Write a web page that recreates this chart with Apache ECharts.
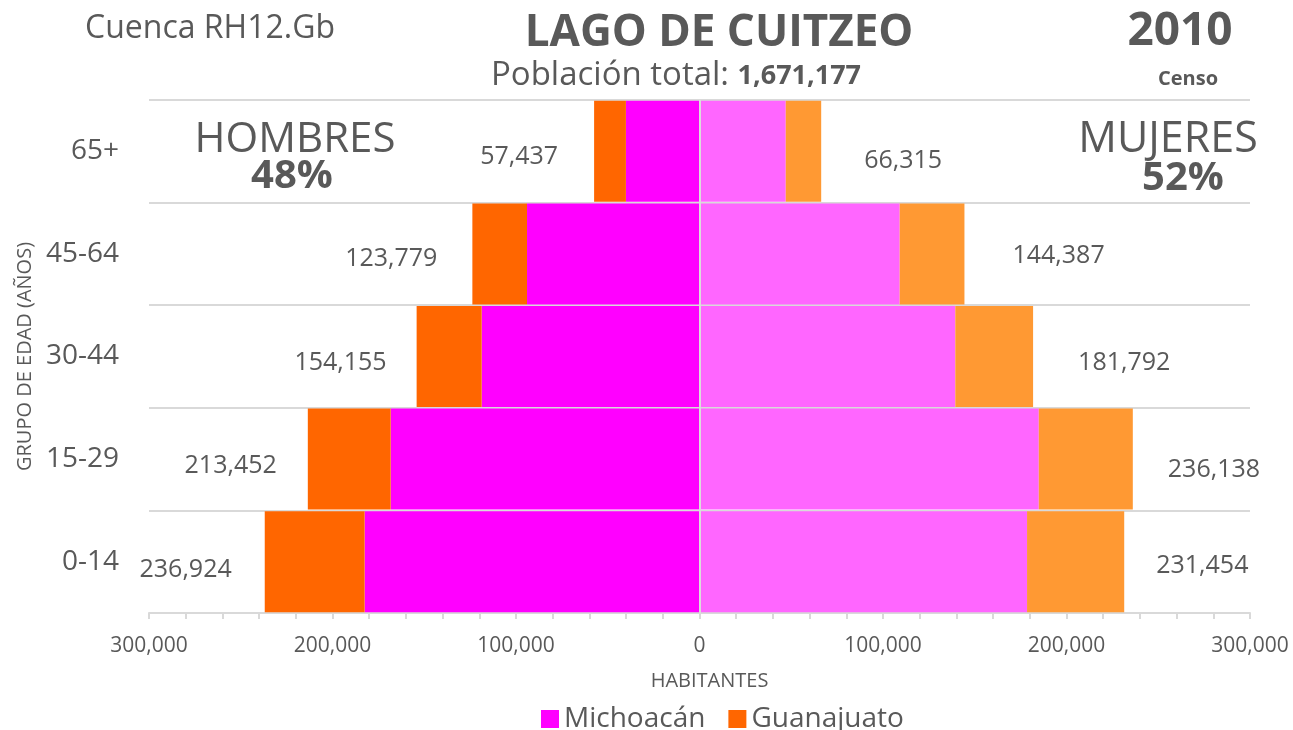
<!DOCTYPE html>
<html>
<head>
<meta charset="utf-8">
<script src="https://cdn.jsdelivr.net/npm/echarts@6/dist/echarts.min.js"></script>
<style>
  html, body { margin: 0; padding: 0; background: #fff; }
  #chart { width: 1293px; height: 730px; }
</style>
</head>
<body>
<div id="chart"></div>
<script>
// age groups, bottom to top
var categories = ['0-14', '15-29', '30-44', '45-64', '65+'];

// men (left side) by state
var menMichoacan = [182500, 168300, 118700, 94000, 40100];
var menGuanajuato = [54424, 45152, 35455, 29779, 17337];
// women (right side) by state
var womenMichoacan = [178500, 184900, 139400, 109100, 47000];
var womenGuanajuato = [52954, 51238, 42392, 35287, 19315];

// totals printed next to each bar
var menTotals = [236924, 213452, 154155, 123779, 57437];
var womenTotals = [231454, 236138, 181792, 144387, 66315];

var xTicks = [-300000, -200000, -100000, 0, 100000, 200000, 300000];

// hand placed labels in the original, so nudge them a bit per row
var menLabelGap = [33, 31, 30, 35, 36];
var menLabelDy = [8, 7, 6, 5, 6];
var womenLabelGap = [32, 35, 45, 48, 43];
var womenLabelDy = [4, 11, 6, 2, 10];

var grey = '#595959';
var font = '"Open Sans", sans-serif';

function fmt(n) {
    return Math.abs(n).toLocaleString('en-US');
}

function labelled(values, totals, gaps, dys, pos, sign) {
    return values.map(function (v, i) {
        return {
            value: sign * v,
            label: {
                show: true,
                position: pos,
                distance: gaps[i],
                offset: [0, dys[i]],
                formatter: fmt(totals[i]),
                color: grey,
                fontSize: 25,
                fontFamily: font
            }
        };
    });
}

var chart = echarts.init(document.getElementById('chart'));

var option = {
    animation: false,
    textStyle: { fontFamily: font, color: grey },
    grid: { left: 149, right: 43, top: 100, bottom: 117 },
    legend: {
        data: ['Michoacán', 'Guanajuato'],
        left: 536,
        top: 700,
        icon: 'rect',
        itemWidth: 18,
        itemHeight: 18,
        itemGap: 23,
        textStyle: { fontSize: 28, color: grey, fontFamily: font }
    },
    xAxis: {
        type: 'value',
        min: -300000,
        max: 300000,
        interval: 20000,
        name: 'HABITANTES',
        nameLocation: 'middle',
        nameGap: 58,
        nameTextStyle: { fontSize: 20, color: grey, padding: [0, 0, 0, 20] },
        axisLine: { show: true, lineStyle: { color: '#d9d9d9', width: 2 } },
        axisTick: { show: true, length: 6, lineStyle: { color: '#d9d9d9', width: 2 } },
        splitLine: { show: false },
        axisLabel: {
            margin: 23,
            fontSize: 21,
            color: grey,
            formatter: function (v) {
                return xTicks.indexOf(v) >= 0 ? fmt(v) : '';
            }
        }
    },
    yAxis: {
        type: 'category',
        data: categories,
        name: 'GRUPO DE EDAD (AÑOS)',
        nameLocation: 'middle',
        nameGap: 114,
        nameTextStyle: { fontSize: 20, color: grey },
        axisLine: { show: false },
        axisTick: { show: false },
        splitLine: { show: true, lineStyle: { color: '#d9d9d9', width: 2 } },
        axisLabel: { margin: 30, fontSize: 28, color: grey }
    },
    series: [
        {
            name: 'Michoacán',
            type: 'bar',
            stack: 'all',
            barCategoryGap: '1.6%',
            itemStyle: { color: '#FF00FF' },
            data: menMichoacan.map(function (v) { return -v; }),
            markLine: {
                silent: true,
                symbol: 'none',
                label: { show: false },
                lineStyle: { color: '#dcdcdc', width: 2, type: 'solid' },
                data: [{ xAxis: 0 }]
            }
        },
        {
            name: 'Guanajuato',
            type: 'bar',
            stack: 'all',
            itemStyle: { color: '#FF6600' },
            data: labelled(menGuanajuato, menTotals, menLabelGap, menLabelDy, 'left', -1)
        },
        {
            name: 'Michoacán',
            type: 'bar',
            stack: 'all',
            itemStyle: { color: '#FF66FF' },
            data: womenMichoacan
        },
        {
            name: 'Guanajuato',
            type: 'bar',
            stack: 'all',
            itemStyle: { color: '#FF9933' },
            data: labelled(womenGuanajuato, womenTotals, womenLabelGap, womenLabelDy, 'right', 1)
        }
    ],
    graphic: [
        { type: 'text', left: 85, top: 13, style: { text: 'Cuenca RH12.Gb', font: '32px ' + font, fill: grey } },
        { type: 'text', x: 719, y: 33, style: { text: 'LAGO DE CUITZEO', font: 'bold 44px ' + font, fill: grey, align: 'center', verticalAlign: 'middle' } },
        {
            type: 'text', x: 676, y: 76,
            style: {
                text: '{a|Población total: }{b|1,671,177}',
                align: 'center', verticalAlign: 'middle',
                rich: {
                    a: { fontSize: 33, fontFamily: font, fill: grey },
                    b: { fontSize: 27, fontWeight: 'bold', fontFamily: font, fill: grey }
                }
            }
        },
        { type: 'text', x: 1180, y: 32, style: { text: '2010', font: 'bold 46px ' + font, fill: grey, align: 'center', verticalAlign: 'middle' } },
        { type: 'text', x: 1188, y: 79, style: { text: 'Censo', font: 'bold 20px ' + font, fill: grey, align: 'center', verticalAlign: 'middle' } },
        { type: 'text', x: 295, y: 140, style: { text: 'HOMBRES', font: '42px ' + font, fill: grey, align: 'center', verticalAlign: 'middle' } },
        { type: 'text', x: 292, y: 177, style: { text: '48%', font: 'bold 40px ' + font, fill: grey, align: 'center', verticalAlign: 'middle' } },
        { type: 'text', x: 1168, y: 140, style: { text: 'MUJERES', font: '43px ' + font, fill: grey, align: 'center', verticalAlign: 'middle' } },
        { type: 'text', x: 1183, y: 179, style: { text: '52%', font: 'bold 40px ' + font, fill: grey, align: 'center', verticalAlign: 'middle' } }
    ]
};

chart.setOption(option);
</script>
</body>
</html>
